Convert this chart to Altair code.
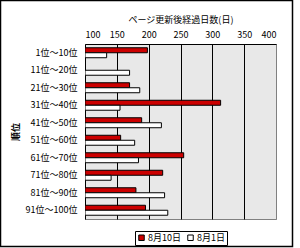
import altair as alt
import pandas as pd

categories = ["1位～10位", "11位～20位", "21位～30位", "31位～40位", "41位～50位",
              "51位～60位", "61位～70位", "71位～80位", "81位～90位", "91位～100位"]
aug10 = [198, None, 170, 313, 189, 156, 255, 222, 180, 195]
aug1 = [134, 170, 186, 155, 220, 178, 184, 141, 225, 230]
series = ["8月10日", "8月1日"]
colors = ["#cc0000", "#ffffff"]
x_ticks = [100, 150, 200, 250, 300, 350, 400]

rows = []
for c, a, b in zip(categories, aug10, aug1):
    if a is not None:
        rows.append({"cat": c, "series": series[0], "value": a})
    if b is not None:
        rows.append({"cat": c, "series": series[1], "value": b})
df = pd.DataFrame(rows)

FONT = "Noto Sans CJK JP"

bars = alt.Chart(df).mark_bar(stroke="black", strokeWidth=1, clip=True).encode(
    x=alt.X("value:Q",
            scale=alt.Scale(domain=[100, 400], nice=False, zero=False),
            axis=alt.Axis(orient="top", values=x_ticks, title="ページ更新後経過日数(日)",
                          grid=True,
                          gridColor={"condition": {"test": "datum.value == 400 || datum.value == 100",
                                                   "value": "#808080"}, "value": "black"},
                          gridOpacity=1, gridWidth=1,
                          ticks=False, labelPadding=5, labelFontSize=9,
                          labelFont=FONT, labelColor="black",
                          titleFont=FONT, titleFontSize=9, titleFontWeight="normal",
                          titlePadding=6, titleColor="black",
                          domainColor="black", domainWidth=1)),
    x2=alt.datum(100),
    y=alt.Y("cat:N", sort=categories,
            scale=alt.Scale(paddingInner=0.43, paddingOuter=0.215),
            axis=alt.Axis(title="順位", ticks=False, labelPadding=8, labelFontSize=9,
                          labelFont=FONT, labelColor="black",
                          titleFont=FONT, titleFontSize=9, titleFontWeight="bold",
                          titleColor="black", titlePadding=5,
                          domainColor="black", domainWidth=1)),
    yOffset=alt.YOffset("series:N", sort=series),
    color=alt.Color("series:N", sort=series,
                    scale=alt.Scale(domain=series, range=colors),
                    legend=alt.Legend(orient="none", legendX=50, legendY=187,
                                      direction="horizontal", title=None,
                                      strokeColor="black", fillColor="white",
                                      padding=2, cornerRadius=0,
                                      labelFont=FONT, labelFontSize=9, labelColor="black",
                                      symbolType="square", symbolSize=30,
                                      symbolStrokeColor="black", symbolStrokeWidth=1,
                                      labelOffset=2, columnPadding=4)),
)

frame = alt.Chart(pd.DataFrame({"k": [0]})).mark_rect(
    fill=None, stroke="black", strokeWidth=1.5, clip=False
).encode(
    x=alt.value(-84.5), x2=alt.value(207.5),
    y=alt.value(-43.5), y2=alt.value(202.5),
)

chart = alt.layer(bars, frame).properties(
    width=191, height=175,
    autosize=alt.AutoSizeParams(type="none"),
    padding={"left": 85, "top": 44, "right": 24, "bottom": 29},
    background="white",
).configure_view(
    fill="#e8e8e8", stroke="#808080", strokeWidth=1
)

chart.save("out.html", embed_options={"renderer": "svg", "actions": False})
